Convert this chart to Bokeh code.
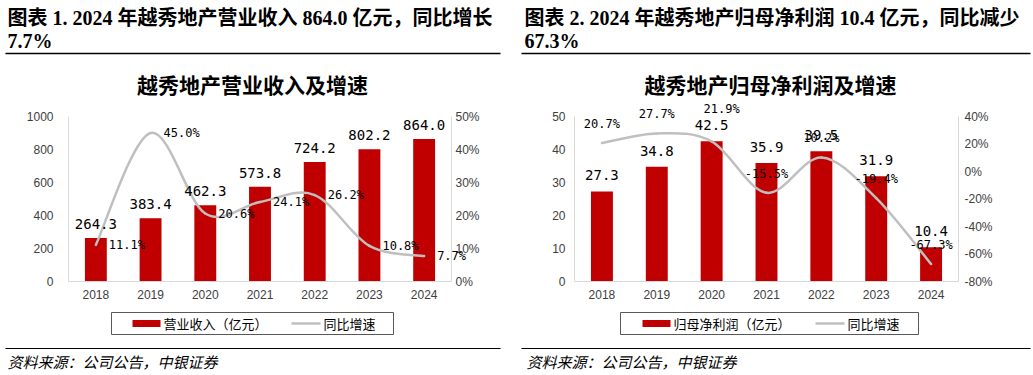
from bokeh.plotting import figure
from bokeh.models import (Range1d, FixedTicker, PrintfTickFormatter, LinearAxis,
                          ColumnDataSource, Label)
from bokeh.layouts import row, column
from bokeh.embed import file_html
from bokeh.resources import INLINE
from bokeh.core.properties import value

# ---------------- data ----------------
years = ["2018", "2019", "2020", "2021", "2022", "2023", "2024"]
revenue = [264.3, 383.4, 462.3, 573.8, 724.2, 802.2, 864.0]
revenue_yoy = [11.1, 45.0, 20.6, 24.1, 26.2, 10.8, 7.7]
profit = [27.3, 34.8, 42.5, 35.9, 39.5, 31.9, 10.4]
profit_yoy = [20.7, 27.7, 21.9, -15.5, 10.2, -19.4, -67.3]

rev_ticks = [0, 200, 400, 600, 800, 1000]
rev_pct_ticks = [0, 10, 20, 30, 40, 50]
prof_ticks = [0, 10, 20, 30, 40, 50]
prof_pct_ticks = [-80, -60, -40, -20, 0, 20, 40]

header1 = ["图表 1. 2024 年越秀地产营业收入 864.0 亿元，同比增长", "7.7%"]
header2 = ["图表 2. 2024 年越秀地产归母净利润 10.4 亿元，同比减少", "67.3%"]
chart_title1 = "越秀地产营业收入及增速"
chart_title2 = "越秀地产归母净利润及增速"
bar_name1 = "营业收入（亿元）"
bar_name2 = "归母净利润（亿元）"
line_name = "同比增速"
source_note = "资料来源：公司公告，中银证券"

# ---------------- styles ----------------
BAR = "#C00000"
LINE = "#BFBFBF"
AXIS = "#D9D9D9"
TICK_TXT = "#404040"
CJK = "Noto Sans CJK SC"
HEAD_FONT = "'Liberation Serif', 'Noto Sans CJK SC'"
MONO = "DejaVu Sans Mono"
W = 1033
# chart strip: page y 100..310; plot frame from y=100 to y=281, top tick sits at y=116
CHART_H = 210
BOTTOM_BORDER = 29
EXT = (281 - 100) / (281 - 116)   # range extension so labels above top tick are not clipped


def canvas(w, y_top, y_bottom):
    f = figure(width=w, height=y_bottom - y_top, x_range=Range1d(0, w),
               y_range=Range1d(y_bottom, y_top), output_backend="svg",
               toolbar_location=None, x_axis_location=None, y_axis_location=None,
               min_border=0, outline_line_color=None, background_fill_color="white")
    f.grid.visible = False
    return f


def smooth(xs, ys):
    n = len(xs)
    d = dict(x0=[], y0=[], x1=[], y1=[], cx0=[], cy0=[], cx1=[], cy1=[])
    for i in range(n - 1):
        xp, yp = (xs[i - 1], ys[i - 1]) if i > 0 else (xs[i], ys[i])
        xn, yn = (xs[i + 2], ys[i + 2]) if i + 2 < n else (xs[i + 1], ys[i + 1])
        d["x0"].append(xs[i]); d["y0"].append(ys[i])
        d["x1"].append(xs[i + 1]); d["y1"].append(ys[i + 1])
        d["cx0"].append(xs[i] + (xs[i + 1] - xp) / 6)
        d["cy0"].append(ys[i] + (ys[i + 1] - yp) / 6)
        d["cx1"].append(xs[i + 1] - (xn - xs[i]) / 6)
        d["cy1"].append(ys[i + 1] - (yn - ys[i]) / 6)
    return d


def txt(f, x, y, s, size, font=CJK, style="normal", align="left"):
    f.text(x=[x], y=[y], text=[s], text_align=align, text_baseline="middle",
           text_font=value(font), text_font_size=size, text_font_style=style,
           text_color="#000000")


# ---------------- header (both panels) ----------------
head = canvas(W, 0, 100)
for lines, x0, rule, tcx, title in ((header1, 7, (5, 500), 252, chart_title1),
                                    (header2, 524, (521, 1030), 770, chart_title2)):
    txt(head, x0, 17, lines[0], "20px", HEAD_FONT, "bold")
    txt(head, x0, 40, lines[1], "20px", HEAD_FONT, "bold")
    head.segment(x0=[rule[0]], y0=[53], x1=[rule[1]], y1=[53], line_color="#000000",
                 line_width=1.3)
    txt(head, tcx, 83, title, "21px", CJK, "bold", "center")

# ---------------- footer (both panels) ----------------
foot = canvas(W, 310, 375)
for box, red_x, red_tx, grey_x, grey_tx, name, src_x, rule in (
        ((111, 393), 132, 163, 291, 323, bar_name1, 7, (5, 500)),
        ((620, 918), 642, 673, 815, 847, bar_name2, 526, (521, 1030))):
    foot.quad(left=[box[0]], right=[box[1]], top=[312], bottom=[334], fill_color=None,
              line_color="#595959", line_width=1)
    foot.quad(left=[red_x], right=[red_x + 28], top=[319.5], bottom=[326.5],
              fill_color=BAR, line_color=None)
    txt(foot, red_tx, 323, name, "13px")
    foot.segment(x0=[grey_x], y0=[323], x1=[grey_x + 29], y1=[323], line_color=LINE,
                 line_width=2.5)
    txt(foot, grey_tx, 323, line_name, "13px")
    foot.segment(x0=[rule[0]], y0=[348], x1=[rule[1]], y1=[348], line_color="#000000",
                 line_width=1.2)
    txt(foot, src_x, 361, source_note, "15px", CJK, "italic")


# ---------------- charts ----------------
def style_axis(ax, standoff):
    ax.axis_line_color = AXIS
    ax.axis_line_width = 1
    ax.major_tick_line_color = None
    ax.minor_tick_line_color = None
    ax.major_tick_out = 0
    ax.major_tick_in = 0
    ax.minor_tick_out = 0
    ax.minor_tick_in = 0
    ax.major_label_text_font = "Liberation Sans"
    ax.major_label_text_font_size = "12px"
    ax.major_label_text_color = TICK_TXT
    ax.major_label_standoff = standoff


def chart(w, left, right, bars, yticks, pct, pct_ticks, bar_dy, pct_dx, pct_dy,
          pct_align, left_standoff, right_standoff, side_label=None):
    idx = list(range(len(years)))
    y0, y1 = yticks[0], yticks[-1]
    q0, q1 = pct_ticks[0], pct_ticks[-1]
    p = figure(width=w, height=CHART_H, x_range=Range1d(-0.5, len(years) - 0.5),
               y_range=Range1d(y0, y0 + (y1 - y0) * EXT), output_backend="svg",
               toolbar_location=None, min_border_left=left, min_border_right=right,
               min_border_top=0, min_border_bottom=BOTTOM_BORDER, outline_line_color=None)
    p.extra_y_ranges = {"pct": Range1d(q0, q0 + (q1 - q0) * EXT)}
    p.grid.visible = False

    style_axis(p.xaxis[0], 8)
    style_axis(p.yaxis[0], left_standoff)
    p.xaxis.ticker = FixedTicker(ticks=idx)
    p.xaxis.major_label_overrides = {i: y for i, y in zip(idx, years)}
    p.yaxis.ticker = FixedTicker(ticks=yticks)
    p.yaxis.bounds = (y0, y1)

    ra = LinearAxis(y_range_name="pct", ticker=FixedTicker(ticks=pct_ticks),
                    formatter=PrintfTickFormatter(format="%d%%"), bounds=(q0, q1))
    style_axis(ra, right_standoff)
    p.add_layout(ra, "right")

    src = ColumnDataSource(dict(x=idx, bar=bars))
    p.vbar(x="x", top="bar", width=0.4, source=src, fill_color=BAR, line_color=None)
    seg = ColumnDataSource(smooth(idx, pct))
    p.bezier(x0="x0", y0="y0", x1="x1", y1="y1", cx0="cx0", cy0="cy0", cx1="cx1", cy1="cy1",
             source=seg, line_color=LINE, line_width=2.5, line_cap="round",
             y_range_name="pct")

    for i in idx:
        p.add_layout(Label(x=i, y=bars[i], text=f"{bars[i]:.1f}", y_offset=bar_dy,
                           text_align="center", text_baseline="middle",
                           text_font=MONO, text_font_size="14px",
                           text_color="#000000"))
        lab = Label(x=i, y=pct[i], text=f"{pct[i]:.1f}%", x_offset=pct_dx[i],
                    y_offset=pct_dy[i], y_range_name="pct", text_align=pct_align,
                    text_baseline="middle", text_font=MONO,
                    text_font_size="12px", text_color="#000000")
        # a label that runs past the right axis is placed in the side panel (unclipped)
        p.add_layout(lab, "right" if side_label == i else "center")
    return p


n = len(years)
c1 = chart(516, 68, 65, revenue, rev_ticks, revenue_yoy, rev_pct_ticks,
           14, [13] * n, [0] * n, "left", 15, 4, side_label=n - 1)
dx2 = [0] * n
dy2 = [19] * n
dx2[2] = 10
dy2[2] = 32
c2 = chart(517, 58, 75, profit, prof_ticks, profit_yoy, prof_pct_ticks,
           16, dx2, dy2, "center", 9, 6)

layout = column(head, row(c1, c2, spacing=0), foot, spacing=0)
open("out.html", "w").write(file_html(layout, INLINE))
